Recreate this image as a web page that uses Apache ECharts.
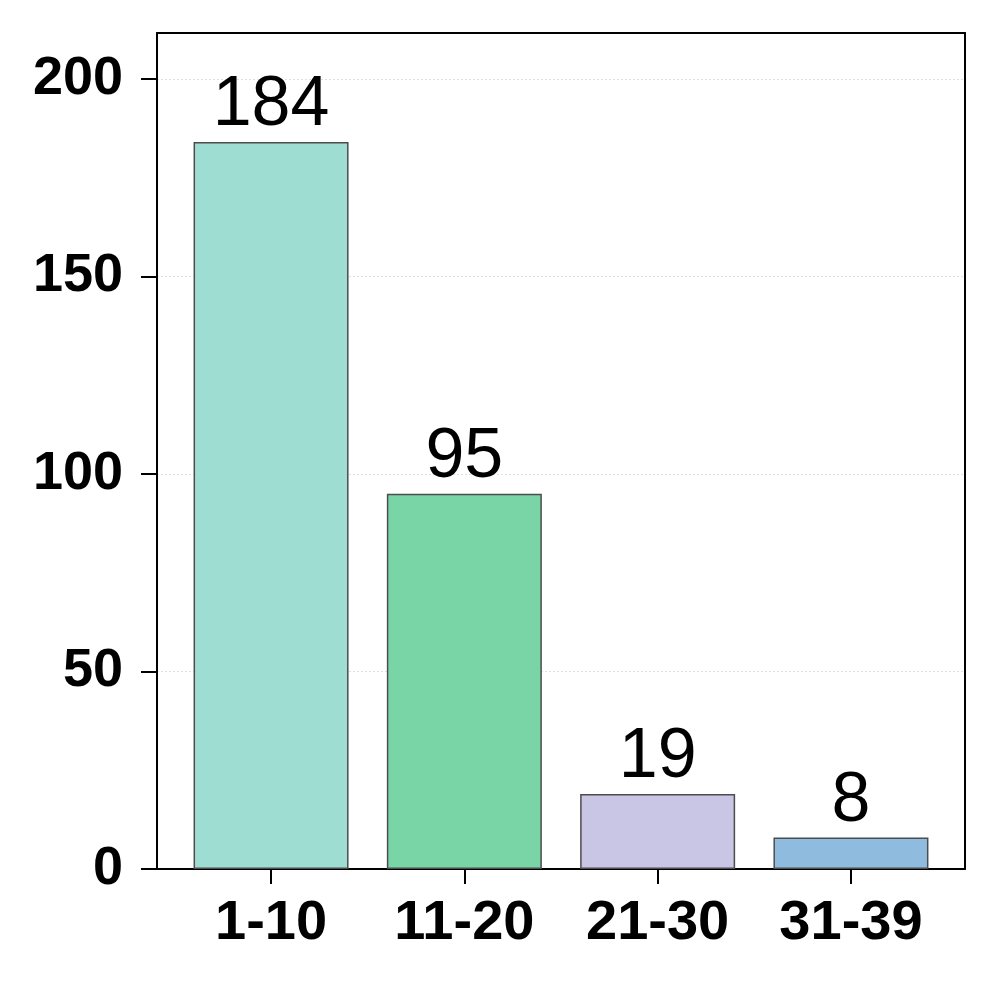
<!DOCTYPE html>
<html>
<head>
<meta charset="utf-8">
<script src="https://cdn.jsdelivr.net/npm/echarts@6/dist/echarts.min.js"></script>
<style>
  html, body { margin: 0; padding: 0; background: #fff; }
  #chart { width: 999px; height: 985px; }
</style>
</head>
<body>
<div id="chart"></div>
<script>
// 数据
const categories = ["1-10", "11-20", "21-30", "31-39"];
const counts = [184, 95, 19, 8];
const barColors = ["#9EDDD1", "#79D4A6", "#C9C5E4", "#8FBCDE"];
const yTicks = [0, 50, 100, 150, 200];

const FONT = "'Liberation Sans', Arial, Helvetica, sans-serif";

const chart = echarts.init(document.getElementById("chart"), null, { renderer: "canvas" });

// 用数值轴放柱子，左右留白和原图一致
const barData = counts.map((v, i) => ({
  value: [i, v],
  itemStyle: { color: barColors[i] }
}));

//上、右边框
const frameAxis = {
  axisLine: { show: true, onZero: false, lineStyle: { color: "#000", width: 2 } },
  axisTick: { show: false },
  axisLabel: { show: false },
  splitLine: { show: false }
};

chart.setOption({
  animation: false,
  backgroundColor: "#fff",
  grid: { left: 157, right: 34, top: 33, bottom: 116, containLabel: false },
  xAxis: [
    {
      type: "value",
      min: -0.59,
      max: 3.59,
      position: "bottom",
      axisLine: { show: true, onZero: false, lineStyle: { color: "#000", width: 2 } },
      axisTick: {
        show: true, length: 15, inside: false,
        lineStyle: { color: "#000", width: 2 },
        customValues: categories.map((c, i) => i)
      },
      axisLabel: {
        show: true,
        margin: 27,
        fontSize: 56,
        fontWeight: "bold",
        fontFamily: FONT,
        color: "#000",
        customValues: categories.map((c, i) => i),
        formatter: (v) => categories[Math.round(v)]
      },
      splitLine: { show: false }
    },
    Object.assign({ type: "value", min: -0.59, max: 3.59, position: "top" }, frameAxis)
  ],
  yAxis: [
    {
      type: "value",
      min: 0,
      max: 211.6,
      interval: 50,
      position: "left",
      axisLine: { show: true, onZero: false, lineStyle: { color: "#000", width: 2 } },
      axisTick: {
        show: true, length: 16, inside: false,
        lineStyle: { color: "#000", width: 2 },
        customValues: yTicks
      },
      axisLabel: {
        show: true,
        margin: 34,
        fontSize: 54,
        fontWeight: "bold",
        fontFamily: FONT,
        color: "#000",
        customValues: yTicks
      },
      splitLine: {
        show: true,
        showMinLine: false,
        showMaxLine: true,
        lineStyle: { color: "#e0e0e0", width: 1, type: [2, 2] }
      }
    },
    Object.assign({ type: "value", min: 0, max: 211.6, position: "right" }, frameAxis)
  ],
  series: [
    {
      type: "bar",
      xAxisIndex: 0,
      yAxisIndex: 0,
      barWidth: 155,
      data: barData,
      itemStyle: { borderColor: "#4d4d4d", borderWidth: 1.5 },
      label: {
        show: true,
        position: "top",
        distance: 1,
        fontSize: 70,
        fontFamily: FONT,
        color: "#000",
        formatter: (p) => p.value[1]
      }
    }
  ]
});
</script>
</body>
</html>
